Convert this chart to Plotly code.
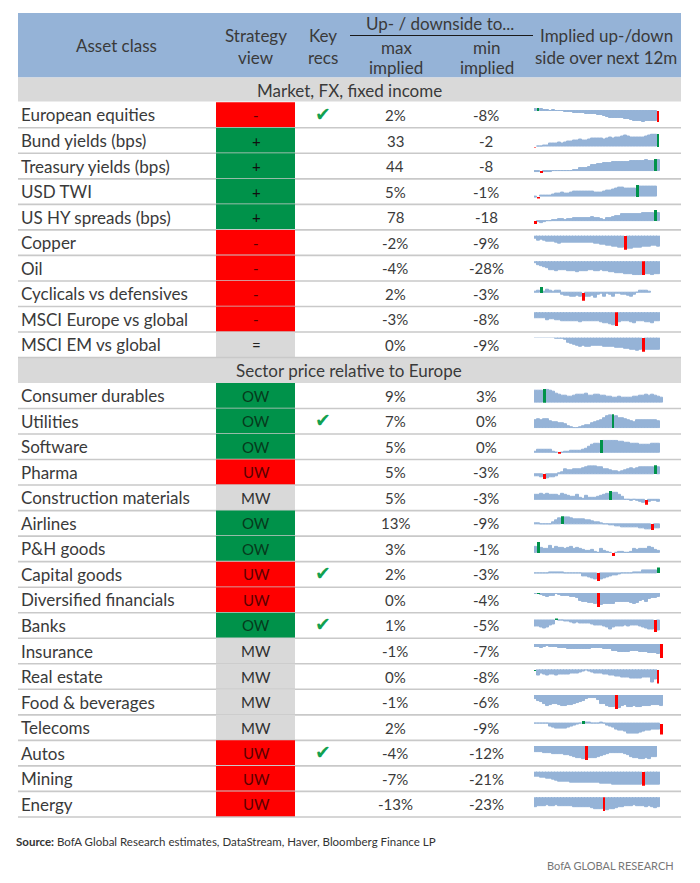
# Importer les librairies nécessaires au travail

import pandas as pd
import plotly.express as px
import plotly.io as pio
pio.templates.default = "plotly_white"

# Les données du tableau

actifs_marche = ["European equities", "Bund yields (bps)", "Treasury yields (bps)", "USD TWI",
                 "US HY spreads (bps)", "Copper", "Oil", "Cyclicals vs defensives",
                 "MSCI Europe vs global", "MSCI EM vs global"]
actifs_secteur = ["Consumer durables", "Utilities", "Software", "Pharma", "Construction materials",
                  "Airlines", "P&H goods", "Capital goods", "Diversified financials", "Banks",
                  "Insurance", "Real estate", "Food & beverages", "Telecoms", "Autos", "Mining", "Energy"]

vues_marche = ["-", "+", "+", "+", "+", "-", "-", "-", "-", "="]
vues_secteur = ["OW", "OW", "OW", "UW", "MW", "OW", "OW", "UW", "UW", "OW",
                "MW", "MW", "MW", "MW", "UW", "UW", "UW"]

max_marche = ["2%", "33", "44", "5%", "78", "-2%", "-4%", "2%", "-3%", "0%"]
min_marche = ["-8%", "-2", "-8", "-1%", "-18", "-9%", "-28%", "-3%", "-8%", "-9%"]
max_secteur = ["9%", "7%", "5%", "5%", "5%", "13%", "3%", "2%", "0%", "1%",
               "-1%", "0%", "-1%", "2%", "-4%", "-7%", "-13%"]
min_secteur = ["3%", "0%", "0%", "-3%", "-3%", "-9%", "-1%", "-3%", "-4%", "-5%",
               "-7%", "-8%", "-6%", "-9%", "-12%", "-21%", "-23%"]

recos = ["European equities", "Utilities", "Capital goods", "Banks", "Autos"]

# Les mini graphiques

european_equities = [1, 2, 1.2, 0.8, 0.5, 0.2, 0.3, 0, -0.2, -0.3, -0.6, -0.8, -1, -1.4, -1.6, -1.8, -1.9, -2, -2.2, -2.3, -2.6, -2.9, -3.3, -3.6, -4.2, -4.8, -5, -5.1, -5.2, -5.3, -5.6, -6, -6.3, -7, -7.4, -7.5, -7.8, -7.2, -7.3, -7.6, -7.2, -8]
bund_yields = [-2, 0.5, 1, 2, 3, 8, 9, 8, 11, 9, 10, 12, 13, 15, 16, 17, 15, 16, 18, 20, 20, 21, 21, 19, 20, 22, 21, 22, 23, 26, 28, 25, 23, 22, 23, 22, 24, 26, 29, 30, 31, 33]
treasury_yields = [-3, -4, -8, -3, -4, -4, -1, 0.5, 0.8, 0.8, 1, 1, 1.2, 1.4, 1.5, 9, 10, 12, 13, 20, 21, 24, 26, 30, 31, 31, 33, 32, 32, 33, 32, 34, 35, 35, 37, 36, 38, 39, 38, 37, 44, 39]
usd_twi = [-0.7, -1, 0.1, 0.1, 0.2, 0.3, 0.6, 1, 1.3, 1.5, 1.2, 1.3, 1.6, 2.1, 2.2, 2, 2.1, 2, 1.9, 2, 1.6, 1.5, 1.7, 2.2, 2.3, 2.5, 2.8, 3.5, 3.6, 3.6, 3.5, 3.3, 3.2, 3.4, 5, 4.2, 4.1, 4.2, 4.2, 4.1, 4.2]
us_hy = [-18, -5, -9, -3, 2, 5, 8, 11, 14, 13, 12, 15, 18, 20, 22, 23, 22, 24, 26, 28, 24, 20, 18, 12, 20, 24, 28, 35, 40, 48, 50, 48, 50, 52, 50, 54, 56, 58, 58, 57, 78, 60]
copper = [-2, -3, -2.8, -3.2, -3.6, -3.8, -4, -4.4, -5, -4.8, -4.5, -4.4, -4.5, -4.6, -4.6, -4.4, -4.3, -4.4, -4.6, -4.8, -5, -5.3, -5.6, -6, -6.4, -6.3, -7, -7.3, -7.8, -8, -9, -8.4, -8.2, -7.9, -7.6, -7.5, -7.3, -7.2, -6.8, -6.4, -6.5, -7]
oil = [-4, -7, -9, -11, -13, -17, -18, -19, -17, -17, -18, -19, -20, -20, -21, -20, -20, -19, -18, -18, -19, -19, -18, -19, -20, -21, -22, -23, -24, -24, -25, -25, -26, -27, -27, -27, -28, -26, -26, -27, -26, -25]
cyclicals = [0.1, 0.6, 2, 0.2, 1, 0.4, 0.3, 0.4, 0.4, -0.9, -1.2, -1.3, -1.4, -1.6, -1.2, -1.7, -3, -1.6, -1.5, -1.2, -2, -1, -0.5, -1.4, -0.6, -1, -1.4, -0.5, -0.4, -0.8, -0.9, -1.3, -1.5, -1, -0.2, 0.7, 0.7, 0.4, 0.2]
msci_europe = [-3.2, -3.3, -3.5, -3.6, -4.6, -4.2, -4, -4.4, -4.8, -4.9, -5, -5, -5, -4.9, -5.2, -5.5, -5.3, -5.2, -5, -4.9, -5, -5.2, -5.6, -6, -6.4, -7, -7.2, -8, -5.6, -5.4, -5.2, -5, -5.6, -6.2, -5.2, -5, -5.2, -5.6, -5.9, -6, -5.2, -5]
msci_em = [0, -0.1, -0.1, -0.1, -0.1, -0.2, -0.3, -0.6, -0.5, -0.9, -1.5, -3, -4, -4.6, -5.4, -5.5, -5.2, -5.6, -5.5, -5.1, -5, -5.3, -5.2, -5.6, -6, -6, -6.1, -6.3, -6.4, -6.6, -7, -7.3, -7.5, -8, -8.4, -8, -9, -7.8, -7.6, -7.5, -7.5, -7.5]
consumer_durables = [7.5, 7.6, 7.6, 9, 8.4, 7.8, 7.2, 6, 5.4, 4.8, 4.4, 3.8, 3.6, 4.4, 4.9, 5, 5.1, 5.6, 4.6, 4.4, 5.4, 5.2, 4.8, 4.4, 4, 3.8, 3.5, 3.4, 3.6, 3.2, 3.1, 3.2, 3.3, 3.8, 4, 4.2, 4.4, 5.4, 4.8, 5, 4.6, 3.8, 3]
utilities = [4, 4.3, 4.2, 4.4, 4.3, 3.6, 3, 3.2, 2.6, 2.4, 2, 1.2, 0.6, 0.2, 0.1, 0.4, 1.1, 1.4, 1.6, 2.4, 2.8, 3.6, 4, 5, 6, 6.6, 7, 6.2, 5.2, 4.8, 4.4, 4, 3.6, 2.8, 3.8, 4, 4, 3.8, 4.2, 4.1, 3.8, 3.4]
software = [0.5, 1.2, 1.3, 1.3, 1.2, 1.3, 0.5, 0.1, -0.4, 0.1, 0.2, 0.4, 0.7, 0.8, 0.6, 0.9, 1, 1.6, 2.2, 3, 3.4, 3.5, 5, 4.6, 4.5, 4.7, 4.6, 4.5, 4.2, 4.3, 4, 3.8, 3.6, 3.4, 3.3, 3.2, 3.2, 3.1, 3.2, 3.3, 3.4, 3.4]
pharma = [-1.3, -1.5, -2, -3, -2.2, -2, -1.6, -1, 0.2, 1, 2.6, 2.4, 2.4, 2.6, 2.8, 3, 3.2, 3.8, 4.4, 4.6, 4.2, 4, 3.8, 3, 2.6, 2.2, 1.8, 1.4, 1.2, 1.4, 2.4, 2.6, 3.2, 2.8, 3.2, 3.6, 3.6, 3.8, 3.7, 3.6, 5, 4]
construction = [2.6, 3, 3.2, 3, 3.3, 2.8, 3, 2.6, 2.4, 3.4, 3, 2, 1.8, 1.6, 2.6, 1.2, 0.6, 2, 1, 1, 1.2, 1.6, 2.2, 2.8, 3.4, 5, 4, 3.6, 2.8, 1.6, -0.2, -0.4, -0.6, -0.4, -0.8, -1.4, -1.6, -3, -1, -0.7, -0.6, -1]
airlines = [2, 2, 1, 1, 1, 1, 3, 7, 10, 13, 11, 11, 10, 9, 8, 8, 8, 7, 6, 5, 4, 3, 2, 1, 0.5, -0.5, -1, -2, -3, -3.5, -4, -3.5, -4, -4.5, -5, -6, -6.5, -7, -7, -9, -6, -6]
ph_goods = [1.6, 3, 1.2, 1.1, 1, 1.9, 1, 1.7, 1.3, 1.2, 1.1, 1.3, 1.6, 1.1, 1.2, 0.9, 0.6, 0.4, 0.5, 0.6, 0.2, -0.1, 1, 0.4, 0.1, -0.2, -1, -0.2, 0.1, 0.2, -0.2, -0.1, 0.2, 0.9, 0.7, 1, 1.1, 0.9, 1.5, 1.2, 0.7, 0.3]
capital_goods = [0, 0, -0.3, -0.1, 0, 0.1, 0.3, 0.3, 0.1, 0.2, 0, 0, -0.1, -0.1, -0.1, -0.3, -1.1, -1.3, -1.6, -2, -2.4, -3, -2.3, -1.8, -1.6, -1.3, -1, -0.9, -0.6, -0.3, -0.2, -0.1, 0, 0.2, 0.3, 0.3, 0.9, 1, 1, 1.1, 1.1, 2]
diversified = [-0.1, 0.1, -0.4, -0.7, -1, -0.9, -0.8, -0.3, -0.5, -0.7, -0.8, -0.9, -1, -1.2, -1.3, -2.2, -2.4, -2.6, -2.8, -2.9, -3, -4, -3.3, -3.2, -3.2, -3.1, -3, -2.6, -2.5, -2.4, -2.6, -2.6, -2.9, -3, -2.7, -2.2, -2, -2.4, -1.6, -1.5, -1.3, -1]
banks = [-2.4, -2.6, -3, -3.2, -3, -2.2, -1.4, 1, 0.3, 0, -0.1, -0.3, -0.5, -1, -0.8, -1.1, -1, -1.2, -1.3, -1.5, -1.8, -2, -2, -2.4, -3, -3.6, -2.8, -2.4, -2.6, -2.3, -2.2, -2.3, -2, -2.1, -2.2, -2.4, -3, -3.2, -3.6, -3.8, -5, -4]
insurance = [-1.6, -1.4, -2, -1.3, -1.2, -1.5, -1.6, -1.7, -1.8, -2, -2.1, -2.6, -2.4, -2.5, -2.5, -2.4, -2.4, -2.6, -2.3, -2, -2.1, -2.2, -2.2, -2.5, -2.6, -2.7, -3.3, -3.6, -3.8, -4, -4.1, -3.8, -3.6, -3.7, -3.7, -3.9, -4.2, -4.2, -4.3, -4.4, -4.6, -5, -7]
real_estate = [0.1, -3.2, -2, -2.6, -3.4, -3, -3, -3.2, -2.8, -2.8, -3, -2.6, -2.4, -2.2, -2, -1.6, -1, -0.2, -0.8, -1.6, -2, -2.2, -2.4, -2.6, -2.8, -3.4, -3.6, -3.8, -4.2, -4.4, -4.6, -4.8, -5, -5, -5.2, -5.2, -4.8, -4.6, -4.4, -7.2, -5.6, -8]
food = [-1.7, -2.6, -3.2, -3.8, -4.6, -4.4, -4, -4, -4.2, -4.6, -4.5, -4.3, -4.2, -3.9, -3.6, -3, -2.4, -1.8, -1.4, -1.1, -1.2, -2, -4, -3.8, -4.5, -5, -5.2, -6, -5.4, -4.8, -4.4, -5, -5.2, -4.7, -5.3, -5.2, -4.8, -4.5, -4.6, -4.4, -4.3, -4.4, -4.7]
telecoms = [-0.1, -0.1, -0.2, -0.2, -0.5, -3, -3.8, -4, -4.2, -4.4, -4.3, -3.8, -2.8, -2, -1, -0.4, 2, 0.2, 0.1, 0, 0, -0.1, 0.4, -0.6, -2, -3, -3.6, -4.8, -5.6, -6.2, -7, -8, -8.4, -8.6, -8.4, -7.6, -6.8, -6, -5.6, -5.2, -5, -5.2, -9]
autos = [-5.2, -5, -5.4, -5.6, -6.4, -6, -6.8, -7, -7, -7, -7.4, -7.6, -8.2, -9.2, -10, -10.6, -11, -12, -10.6, -10.4, -10, -9.8, -8.4, -7.6, -7, -6.2, -6, -5.8, -6.2, -6.4, -7.2, -8, -9.2, -10.2, -10, -11, -11.2, -10.2, -11, -9.6, -9]
mining = [-7, -7.5, -9, -9.5, -10, -11, -12.5, -13.5, -15, -15.5, -15, -15.5, -16.5, -17, -16.5, -16.5, -16, -16, -16, -16.5, -17, -17, -17.5, -18, -18, -18.5, -19, -20, -20, -20, -20, -20, -19.5, -20, -20, -19.5, -21, -19, -19, -19, -19, -19]
energy = [-17, -14.5, -14.5, -14, -13.8, -14.4, -14, -13.6, -14.6, -14.8, -15, -14.6, -15.5, -16, -16, -17, -16.6, -16.5, -17, -18, -19, -20, -20.5, -23, -21, -19.5, -19, -18, -17, -16, -15, -14.5, -14, -13, -14, -14.5, -15, -16, -15.5, -16, -17.5, -17]

series = [european_equities, bund_yields, treasury_yields, usd_twi, us_hy, copper, oil, cyclicals, msci_europe, msci_em,
          consumer_durables, utilities, software, pharma, construction, airlines, ph_goods, capital_goods, diversified, banks,
          insurance, real_estate, food, telecoms, autos, mining, energy]

# Largeur des repères, en nombre de barres
largeurs = [0.6, 0.4, 1, 1, 1, 1, 1, 0.9, 1, 1,
            1, 0.4, 1, 1, 1, 1, 1, 1, 1, 0.9,
            1, 0.4, 1, 1, 1, 1, 0.5]

# Définir les fonctions pour placer les éléments, en pixels de la page
# (la page garde une marge de 8 pixels autour du graphique)

largeur_page = 692
hauteur_page = 867
marge = 8


def px_x(x):
    return (x - marge) / largeur_page


def px_y(y):
    return 1 - (y - marge) / hauteur_page


def texte(fig, x, y, s, size=17, color="#3a3a3a", anchor="center", font="Lato"):
    fig.add_annotation(x=px_x(x), y=px_y(y), xref="paper", yref="paper", text=s, showarrow=False,
                       xanchor=anchor, yanchor="middle", font=dict(family=font, size=size, color=color))


def rectangle(fig, x0, y0, x1, y1, color):
    fig.add_shape(type="rect", xref="paper", yref="paper", x0=px_x(x0), x1=px_x(x1), y0=px_y(y0), y1=px_y(y1),
                  fillcolor=color, line_width=0, layer="below")


def trait(fig, x0, y0, x1, y1, color="#c9c9c9", width=1.6):
    fig.add_shape(type="line", xref="paper", yref="paper", x0=px_x(x0), x1=px_x(x1), y0=px_y(y0), y1=px_y(y1),
                  line=dict(color=color, width=width), layer="below")


# Définir la fonction pour visualiser les mini graphiques

def mini_barres(actifs, series, cmap={"autre": "#95b3d7", "max": "#00924a", "min": "#ff0000"}):

    lignes = []
    for actif, valeurs in zip(actifs, series):
        haut = max(valeurs)
        bas = min(valeurs)
        for i, v in enumerate(valeurs):
            etat = "autre"
            if v == haut and v > 0:
                etat = "max"
            if v == bas and v < 0:
                etat = "min"
            lignes.append({"actif": actif, "rang": i, "valeur": v, "etat": etat})
    data = pd.DataFrame(lignes)

    # Visualisation
    fig = px.bar(data, x="rang", y="valeur", color="etat", facet_row="actif",
                 category_orders={"actif": actifs},
                 color_discrete_map=cmap, facet_row_spacing=0,
                 width=largeur_page, height=hauteur_page)

    # Mettre à jour le graphique
    fig.update_traces(width=1, marker_line_width=1, marker_line_color="#95b3d7")
    fig.update_traces(marker_line_width=0, selector=dict(name="max"))
    fig.update_traces(marker_line_width=0, selector=dict(name="min"))
    return fig


actifs = actifs_marche + actifs_secteur
fig = mini_barres(actifs, series)
fig.layout.annotations = ()
fig.update_layout(margin=dict(l=0, r=0, t=0, b=0), showlegend=False, autosize=False,
                  paper_bgcolor="white", plot_bgcolor="white", bargap=0, hovermode=False)
fig.update_xaxes(visible=False, domain=[px_x(534), px_x(663)], range=[-0.5, 42.5])
fig.update_yaxes(visible=False, matches=None)

# Les lignes du tableau

pas = 25.53
centres = [115 + pas * k for k in range(10)] + [395.7 + pas * k for k in range(17)]
vues = vues_marche + vues_secteur
maxima = max_marche + max_secteur
minima = min_marche + min_secteur
couleurs = {"-": "#ff0000", "+": "#00924a", "=": "#d9d9d9",
            "OW": "#00924a", "UW": "#ff0000", "MW": "#d9d9d9"}
encres = {"-": "#5a0000", "+": "#101010", "=": "#202020",
          "OW": "#063a1c", "UW": "#5a0000", "MW": "#303030"}

rectangle(fig, 18, 13, 681, 77.5, "#95b3d7")
rectangle(fig, 18, 77.5, 681, 101.5, "#d9d9d9")
rectangle(fig, 18, 357.5, 681, 383, "#d9d9d9")

for k, actif in enumerate(actifs):
    y = centres[k]
    rangee = len(actifs) - k
    axe = fig.get_subplot(row=rangee, col=1)
    axe.yaxis.update(domain=[px_y(y + 7), px_y(y - 7)],
                     range=[min(0, min(series[k])), max(0, max(series[k]))])
    for trace in fig.select_traces(row=rangee, col=1):
        if trace.name != "autre":
            trace.width = largeurs[k]

    rectangle(fig, 216, y - pas / 2, 295, y + pas / 2, couleurs[vues[k]])
    trait(fig, 18, y + pas / 2, 681, y + pas / 2)
    texte(fig, 19, y, actif, anchor="left")
    texte(fig, 256, y, vues[k], color=encres[vues[k]], size=15)
    texte(fig, 395, y, maxima[k], size=15)
    texte(fig, 486, y, minima[k], size=15)
    if actif in recos:
        texte(fig, 323, y - 1, "✔", size=19, color="#12a150", font="DejaVu Sans")

# Les textes de l'en-tête

texte(fig, 116, 45, "Asset class")
texte(fig, 256, 35, "Strategy")
texte(fig, 256, 57, "view")
texte(fig, 323, 35, "Key")
texte(fig, 323, 57, "recs")
texte(fig, 440, 24, "Up- / downside to...")
trait(fig, 350, 35.5, 533, 35.5, color="#1a1a1a", width=1.2)
texte(fig, 396, 47, "max")
texte(fig, 396, 68, "implied")
texte(fig, 487, 47, "min")
texte(fig, 487, 68, "implied")
texte(fig, 606, 35, "Implied up-/down")
texte(fig, 606, 57, "side over next 12m")
texte(fig, 349, 90, "Market, FX, fixed income")
texte(fig, 349, 370, "Sector price relative to Europe")

# La source

texte(fig, 14, 841, "<b>Source:</b> BofA Global Research estimates, DataStream, Haver, Bloomberg Finance LP",
      size=11.5, color="#333333", anchor="left")
texte(fig, 676, 865, "BofA GLOBAL RESEARCH", size=11, color="#777777", anchor="right")

fig.write_html("out.html")
